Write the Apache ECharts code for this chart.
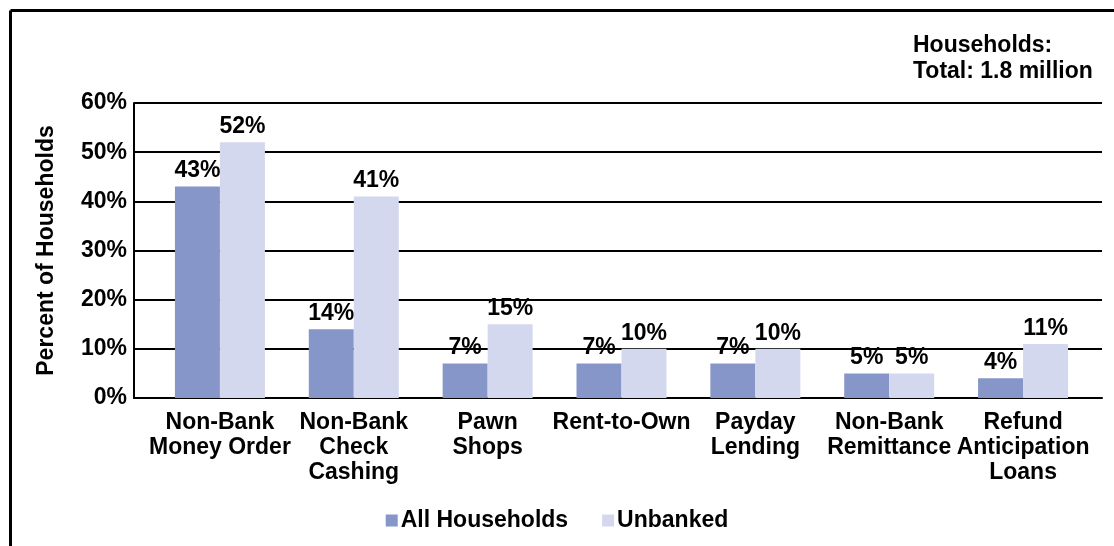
<!DOCTYPE html>
<html>
<head>
<meta charset="utf-8">
<script src="https://cdn.jsdelivr.net/npm/echarts@6/dist/echarts.min.js"></script>
<style>
html,body{margin:0;padding:0;background:#fff;}
#chart{width:1114px;height:546px;}
</style>
</head>
<body>
<div id="chart"></div>
<script>
const categories = [
  "Non-Bank\nMoney Order",
  "Non-Bank\nCheck\nCashing",
  "Pawn\nShops",
  "Rent-to-Own",
  "Payday\nLending",
  "Non-Bank\nRemittance",
  "Refund\nAnticipation\nLoans"
];
const allHouseholds = [43, 14, 7, 7, 7, 5, 4];
const unbanked = [52, 41, 15, 10, 10, 5, 11];
const seriesNames = ["All Households", "Unbanked"];
const yMin = 0, yMax = 60, yInterval = 10;
const yAxisTitle = "Percent of Households";
const noteLines = ["Households:", "Total: 1.8 million"];

const FONT = "'Liberation Sans', Arial, sans-serif";
const txt = {fontFamily: FONT, fontWeight: 'bold', fontSize: 23, color: '#000'};

const chart = echarts.init(document.getElementById('chart'));
chart.setOption({
  animation: false,
  backgroundColor: '#fff',
  title: {
    text: noteLines.join('\n'),
    left: 913, top: 33, padding: 0,
    textStyle: Object.assign({}, txt, {lineHeight: 26})
  },
  legend: {
    data: seriesNames,
    left: 'center', top: 504,
    itemWidth: 12, itemHeight: 12, itemGap: 34,
    icon: 'rect',
    textStyle: Object.assign({}, txt, {padding: [0, 0, 0, -2]})
  },
  graphic: [
    {type: 'line', shape: {x1: 10.5, y1: 10.5, x2: 1114, y2: 10.5}, style: {stroke: '#000', lineWidth: 3}},
    {type: 'line', shape: {x1: 10.5, y1: 10.5, x2: 10.5, y2: 546}, style: {stroke: '#000', lineWidth: 3}}
  ],
  grid: [
    {left: 153, right: 24, top: 103, bottom: 148},
    {left: 134, right: 12, top: 103, bottom: 148}
  ],
  xAxis: [
    {
      type: 'category', gridIndex: 0, data: categories,
      axisLine: {show: false}, axisTick: {show: false},
      axisLabel: Object.assign({}, txt, {margin: 12, lineHeight: 25, interval: 0})
    },
    {
      type: 'value', gridIndex: 1, min: 0, max: 1,
      axisLine: {show: true, lineStyle: {color: '#000', width: 2}},
      axisTick: {show: false}, axisLabel: {show: false}, splitLine: {show: false}
    }
  ],
  yAxis: [
    {type: 'value', gridIndex: 0, min: yMin, max: yMax, interval: yInterval, show: false, splitLine: {show: false}},
    {
      type: 'value', gridIndex: 1, min: yMin, max: yMax, interval: yInterval,
      name: yAxisTitle, nameLocation: 'middle', nameRotate: 90, nameGap: 76,
      nameTextStyle: txt,
      axisLine: {show: true, lineStyle: {color: '#000', width: 2}},
      axisTick: {show: false},
      axisLabel: Object.assign({}, txt, {margin: 7, formatter: '{value}%'}),
      splitLine: {show: true, lineStyle: {color: '#000', width: 2}}
    }
  ],
  series: [
    {
      name: seriesNames[0], type: 'bar', xAxisIndex: 0, yAxisIndex: 0,
      data: allHouseholds, barWidth: 45, barGap: '0%',
      itemStyle: {color: '#8796c8'},
      label: Object.assign({show: true, position: 'top', distance: 4, formatter: '{c}%'}, txt)
    },
    {
      name: seriesNames[1], type: 'bar', xAxisIndex: 0, yAxisIndex: 0,
      data: unbanked, barWidth: 45, barGap: '0%',
      itemStyle: {color: '#d4d8ee'},
      label: Object.assign({show: true, position: 'top', distance: 4, formatter: '{c}%'}, txt)
    }
  ]
});
</script>
</body>
</html>
